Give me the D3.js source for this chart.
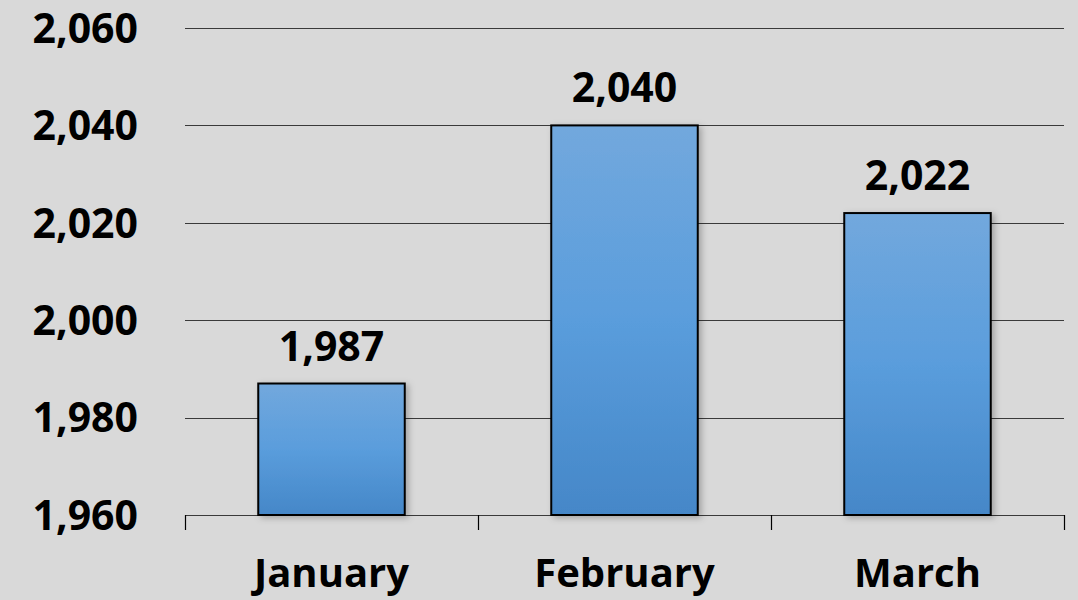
<!DOCTYPE html>
<html>
<head>
<meta charset="utf-8">
<script src="https://cdn.jsdelivr.net/npm/d3@7"></script>
<style>
  html, body { margin: 0; padding: 0; background: #d9d9d9; }
  svg { display: block; font-family: "Open Sans", sans-serif; }
</style>
</head>
<body>
<div id="chart"></div>
<script>
// Monthly values
var months = ['January', 'February', 'March'];
var values = [1987, 2040, 2022];
var yTicks = [1960, 1980, 2000, 2020, 2040, 2060];

var width = 1078;
var height = 600;
var margin = { top: 28, right: 14, bottom: 85, left: 185 };
var plotWidth = width - margin.left - margin.right;
var plotHeight = height - margin.top - margin.bottom;

var svg = d3.select('#chart').append('svg')
    .attr('width', width)
    .attr('height', height);

svg.append('rect')
    .attr('width', width)
    .attr('height', height)
    .attr('fill', '#d9d9d9');

var defs = svg.append('defs');
var grad = defs.append('linearGradient')
    .attr('id', 'barGrad')
    .attr('x1', 0).attr('y1', 0).attr('x2', 0).attr('y2', 1);
grad.append('stop').attr('offset', '0%').attr('stop-color', '#72a8dd');
grad.append('stop').attr('offset', '50%').attr('stop-color', '#5a9ddc');
grad.append('stop').attr('offset', '100%').attr('stop-color', '#4587c8');

var shadow = defs.append('filter')
    .attr('id', 'shadow')
    .attr('x', '-10%').attr('y', '-10%')
    .attr('width', '130%').attr('height', '130%');
shadow.append('feDropShadow')
    .attr('dx', 3).attr('dy', 2)
    .attr('stdDeviation', 3)
    .attr('flood-color', '#000')
    .attr('flood-opacity', 0.25);

var g = svg.append('g')
    .attr('transform', 'translate(' + margin.left + ',' + margin.top + ')');

var xScale = d3.scaleBand()
    .domain(months)
    .range([0, plotWidth])
    .paddingInner(0.5)
    .paddingOuter(0.25);

var yScale = d3.scaleLinear()
    .domain([1960, 2060])
    .range([plotHeight, 0]);

var fmt = d3.format(',');

// Grid lines
g.selectAll('.grid-line')
    .data(yTicks)
    .enter()
    .append('line')
    .attr('class', 'grid-line')
    .attr('x1', 0)
    .attr('x2', plotWidth)
    .attr('y1', function(d) { return Math.round(yScale(d)) + 0.5; })
    .attr('y2', function(d) { return Math.round(yScale(d)) + 0.5; })
    .attr('stroke', '#3a3a3a')
    .attr('stroke-width', 1.2);

// Y labels
g.selectAll('.y-label')
    .data(yTicks)
    .enter()
    .append('text')
    .attr('class', 'y-label')
    .attr('x', -47)
    .attr('y', function(d) { return yScale(d); })
    .attr('dy', '0.36em')
    .attr('text-anchor', 'end')
    .attr('font-size', '41px')
    .attr('font-weight', 'bold')
    .attr('fill', '#000')
    .text(function(d) { return fmt(d); });

// Category boundary ticks
g.selectAll('.x-tick')
    .data(d3.range(months.length + 1))
    .enter()
    .append('line')
    .attr('class', 'x-tick')
    .attr('x1', function(i) { return Math.round(i * plotWidth / months.length) + 0.5; })
    .attr('x2', function(i) { return Math.round(i * plotWidth / months.length) + 0.5; })
    .attr('y1', plotHeight)
    .attr('y2', plotHeight + 15)
    .attr('stroke', '#000')
    .attr('stroke-width', 1.2);

// Bars
g.selectAll('.bar')
    .data(values)
    .enter()
    .append('rect')
    .attr('class', 'bar')
    .attr('x', function(d, i) { return xScale(months[i]); })
    .attr('y', function(d) { return yScale(d); })
    .attr('width', xScale.bandwidth())
    .attr('height', function(d) { return plotHeight - yScale(d); })
    .attr('fill', 'url(#barGrad)')
    .attr('stroke', '#000')
    .attr('stroke-width', 2)
    .attr('filter', 'url(#shadow)');

// Value labels
g.selectAll('.value-label')
    .data(values)
    .enter()
    .append('text')
    .attr('class', 'value-label')
    .attr('x', function(d, i) { return xScale(months[i]) + xScale.bandwidth() / 2; })
    .attr('y', function(d) { return yScale(d) - 23; })
    .attr('text-anchor', 'middle')
    .attr('font-size', '41px')
    .attr('font-weight', 'bold')
    .attr('fill', '#000')
    .text(function(d) { return fmt(d); });

// Month labels
g.selectAll('.x-label')
    .data(months)
    .enter()
    .append('text')
    .attr('class', 'x-label')
    .attr('x', function(d) { return xScale(d) + xScale.bandwidth() / 2; })
    .attr('y', plotHeight + 72)
    .attr('text-anchor', 'middle')
    .attr('font-size', '40px')
    .attr('font-weight', 'bold')
    .attr('fill', '#000')
    .text(function(d) { return d; });
</script>
</body>
</html>
